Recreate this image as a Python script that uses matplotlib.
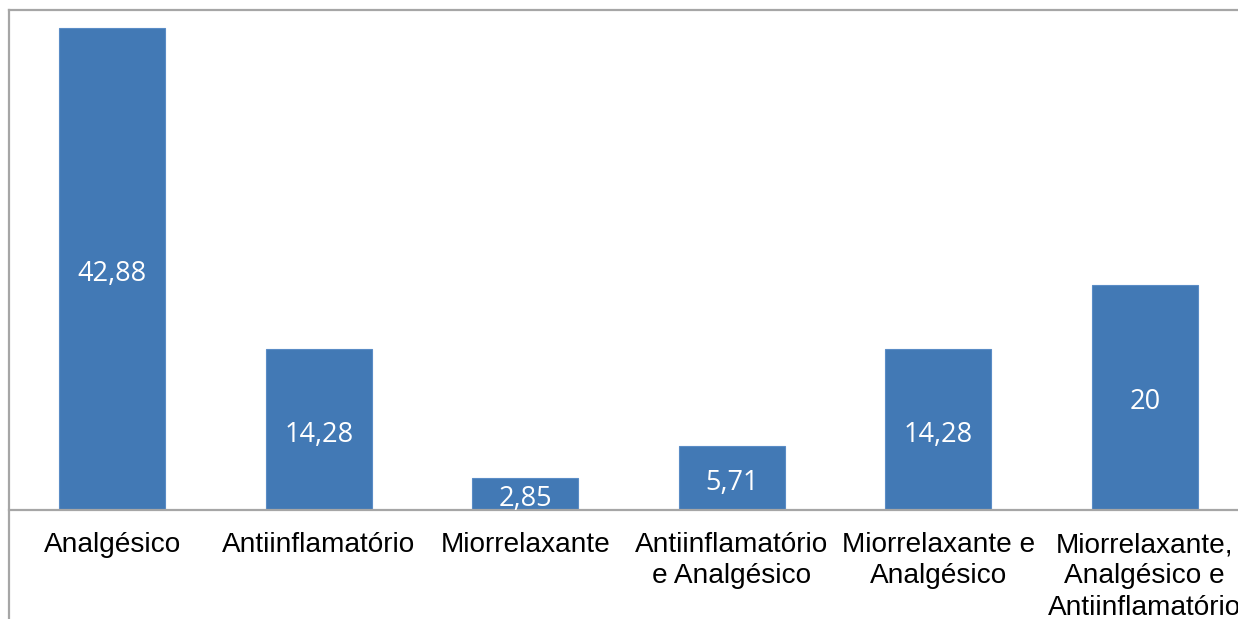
import matplotlib
matplotlib.use("Agg")
import matplotlib.pyplot as plt
from matplotlib.lines import Line2D
from matplotlib.transforms import offset_copy

categories = ["Analgésico", "Antiinflamatório", "Miorrelaxante",
              "Antiinflamatório\ne Analgésico", "Miorrelaxante e\nAnalgésico",
              "Miorrelaxante,\nAnalgésico e\nAntiinflamatório"]
values = [42.88, 14.28, 2.85, 5.71, 14.28, 20]
value_labels = ["42,88", "14,28", "2,85", "5,71", "14,28", "20"]

W, H = 1238, 619
fig = plt.figure(figsize=(W / 100, H / 100), dpi=100)
fig.patch.set_facecolor("white")

left_px, right_px, base_px = 9, 1248, 510
ax = fig.add_axes([left_px / W, (H - base_px) / H, (right_px - left_px) / W, base_px / H])
px_per_unit = (510 - 28) / 42.88
ax.set_ylim(0, base_px / px_per_unit)
ax.set_xlim(-0.5, len(categories) - 0.5)

x = list(range(len(categories)))
bars = ax.bar(x, values, width=0.513, color="#4279B5", edgecolor="#5A8CC6", linewidth=0.8, zorder=2)

tr = offset_copy(ax.transData, fig=fig, x=0, y=-3.5, units="points")
for b, lab in zip(bars, value_labels):
    ax.text(b.get_x() + b.get_width() / 2, b.get_height() / 2, lab,
            ha="center", va="center", color="white", fontsize=19.5,
            family="Open Sans", zorder=3, transform=tr)

ax.set_xticks(x)
ax.set_xticklabels(categories, fontsize=20.2, family="Liberation Sans",
                   linespacing=1.26, va="top")
ax.tick_params(axis="x", length=0, pad=16)
ax.set_yticks([])
for s in ["top", "right", "left"]:
    ax.spines[s].set_visible(False)
ax.spines["bottom"].set_color("#a6a6a6")
ax.spines["bottom"].set_linewidth(1.6)
ax.patch.set_alpha(0)

# outer frame lines (left and top)
fig.add_artist(Line2D([left_px / W, left_px / W], [0, 1 - 10 / H], color="#a6a6a6", lw=1.6,
                      transform=fig.transFigure))
fig.add_artist(Line2D([left_px / W, 1.0], [1 - 10 / H, 1 - 10 / H], color="#a6a6a6", lw=1.6,
                      transform=fig.transFigure))

fig.savefig("out.png", dpi=100)
